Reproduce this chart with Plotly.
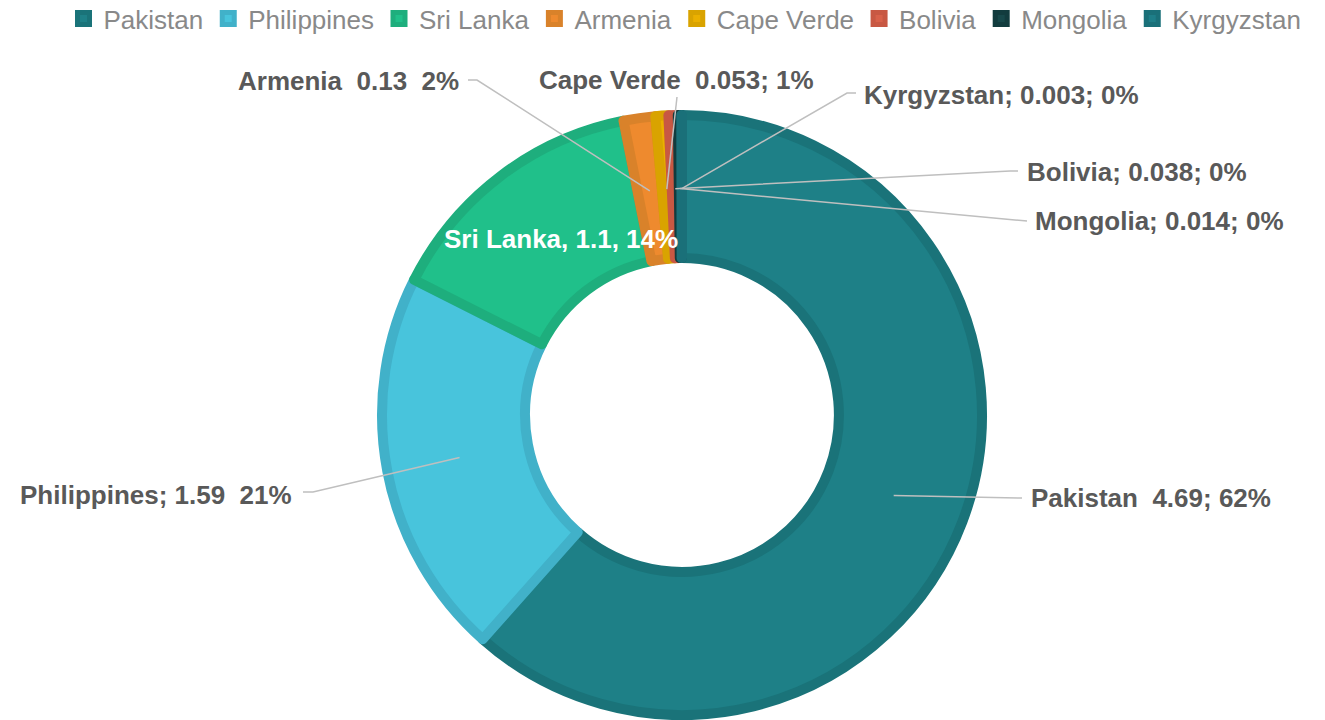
import math
import plotly.graph_objects as go

# ---- data ----
countries = ["Pakistan", "Philippines", "Sri Lanka", "Armenia", "Cape Verde", "Bolivia", "Mongolia", "Kyrgyzstan"]
values = [4.69, 1.59, 1.1, 0.13, 0.053, 0.038, 0.014, 0.003]
value_text = ["4.69", "1.59", "1.1", "0.13", "0.053", "0.038", "0.014", "0.003"]
pct_text = ["62%", "21%", "14%", "2%", "1%", "0%", "0%", "0%"]

# ---- style ----
fill_colors = ["#1E8087", "#48C4DC", "#20C08A", "#EE8A2E", "#EBB000", "#D8614A", "#17484A", "#1E7E88"]
line_colors = ["#1A7379", "#41B1C9", "#1EAE7D", "#D9822A", "#D9A300", "#C85843", "#123C3E", "#1A7079"]

W, H = 1325, 720
CX, CY, R = 682, 415, 300
HOLE = 0.523
LINE_W = 10

NB = "\u00a0"
label_fmt = {
    "Pakistan": "{n}" + NB * 2 + "{v}; {p}",
    "Philippines": "{n}; {v}" + NB * 2 + "{p}",
    "Sri Lanka": "{n}, {v}, {p}",
    "Armenia": "{n}" + NB * 2 + "{v}" + NB * 2 + "{p}",
    "Cape Verde": "{n}" + NB * 2 + "{v}; {p}",
    "Bolivia": "{n}; {v}; {p}",
    "Mongolia": "{n}; {v}; {p}",
    "Kyrgyzstan": "{n}; {v}; {p}",
}
# label placement (pixels): text pos, xanchor, leader start, optional elbow
label_pos = {
    "Pakistan": dict(t=(1029, 498), xa="left", s=(1022, 498), e=None),
    "Philippines": dict(t=(294, 495), xa="right", s=(303, 492), e=(313, 492)),
    "Armenia": dict(t=(461, 81), xa="right", s=(468, 80), e=(477, 80)),
    "Cape Verde": dict(t=(677, 80), xa="center", s=(677, 97), e=None),
    "Kyrgyzstan": dict(t=(862, 95), xa="left", s=(856, 93), e=(847, 93)),
    "Bolivia": dict(t=(1025, 172), xa="left", s=(1018, 171), e=(1010, 171)),
    "Mongolia": dict(t=(1033, 221), xa="left", s=(1027, 221), e=(1015, 220)),
}
inside_offset = {"Sri Lanka": (16, 4)}


def px(x):
    return x / W


def py(y):
    return 1 - y / H


fig = go.Figure()
fig.add_trace(go.Pie(
    labels=countries,
    values=values,
    hole=HOLE,
    sort=False,
    direction="clockwise",
    rotation=0,
    textinfo="none",
    marker=dict(colors=fill_colors, line=dict(color=line_colors, width=LINE_W)),
    domain=dict(x=[px(CX - R), px(CX + R)], y=[py(CY + R), py(CY - R)]),
))

total = sum(values)
rm = R * (1 + HOLE) / 2 - 2
annotations = []
shapes = []
cum = 0.0
for name, v, vt, pt in zip(countries, values, value_text, pct_text):
    th = 2 * math.pi * (cum + v / 2) / total
    cum += v
    ax_ = CX + rm * math.sin(th)
    ay_ = CY - rm * math.cos(th)
    text = label_fmt[name].format(n=name, v=vt, p=pt)
    if name in inside_offset:
        dx, dy = inside_offset[name]
        annotations.append(dict(x=px(ax_ + dx), y=py(ay_ + dy), xref="paper", yref="paper",
                                text="<b>" + text + "</b>", showarrow=False,
                                font=dict(family="Arial, Liberation Sans", size=26, color="white"),
                                xanchor="center", yanchor="middle"))
        continue
    lp = label_pos[name]
    annotations.append(dict(x=px(lp["t"][0]), y=py(lp["t"][1]), xref="paper", yref="paper",
                            text="<b>" + text + "</b>", showarrow=False,
                            font=dict(family="Arial, Liberation Sans", size=26, color="#595959"),
                            xanchor=lp["xa"], yanchor="middle"))
    pts = [lp["s"]]
    if lp["e"]:
        pts.append(lp["e"])
    pts.append((ax_, ay_))
    path = "M " + " L ".join(f"{px(a):.5f},{py(b):.5f}" for a, b in pts)
    shapes.append(dict(type="path", xref="paper", yref="paper", path=path,
                       line=dict(color="#BFBFBF", width=1.5)))

fig.update_layout(
    width=W, height=H,
    margin=dict(l=0, r=0, t=0, b=0, autoexpand=False),
    paper_bgcolor="white",
    plot_bgcolor="white",
    showlegend=True,
    legend=dict(orientation="h", x=0.517, xanchor="center", y=1.0 + 5 / H, yanchor="top",
                font=dict(family="Arial, Liberation Sans", size=26, color="#898989"),
                itemwidth=30, traceorder="normal"),
    annotations=annotations,
    shapes=shapes,
)

fig.write_html("out.html")
